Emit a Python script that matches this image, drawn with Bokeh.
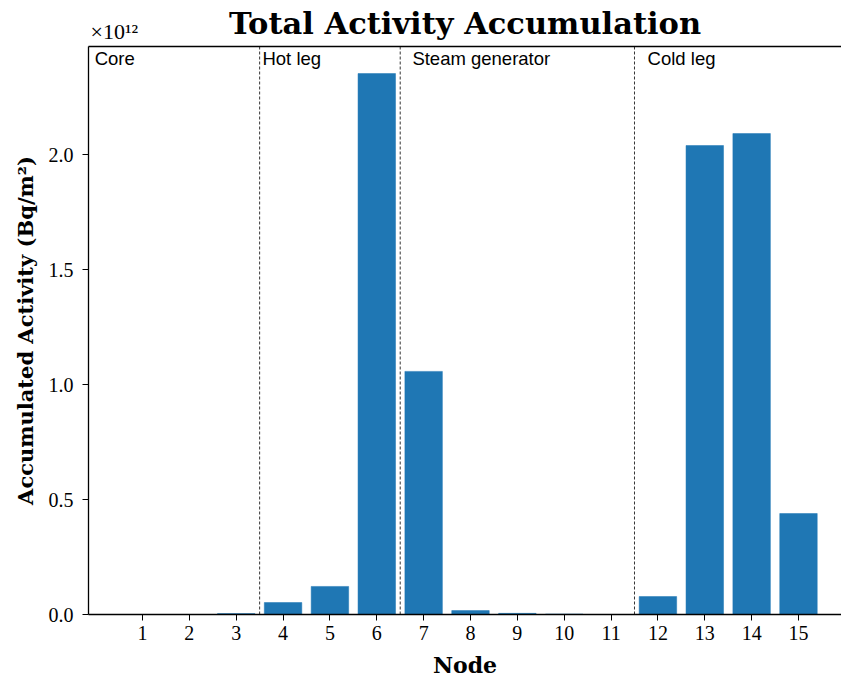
from bokeh.plotting import figure
from bokeh.models import Span, Label, ColumnDataSource, FixedTicker, NumeralTickFormatter, LinearAxis
from bokeh.embed import file_html
from bokeh.resources import INLINE

# ---- data ----
nodes = list(range(1, 16))
activity_e12 = [0.0, 0.0, 0.004, 0.052, 0.122, 2.352, 1.057, 0.017, 0.005, 0.002,
                0.0, 0.078, 2.039, 2.091, 0.439]   # units of 1e12 Bq/m^2
boundaries = [3.5, 6.5, 11.5]
region_names = ["Core", "Hot leg", "Steam generator", "Cold leg"]
region_x = [-0.02, 3.56, 6.76, 11.78]
y_ticks = [0.0, 0.5, 1.0, 1.5, 2.0]
scale_text = "×10¹²"

SERIF = "Liberation Serif"
SERIF_B = "DejaVu Serif"
SANS = "Liberation Sans"

X0, X1 = -0.1524, 15.918
Y0, Y1 = 0.0, 2.4696
SCALE_POS = X0 + 0.55   # centre of the scale-factor label on the top axis

p = figure(width=841, height=681, output_backend="svg", toolbar_location=None,
           x_range=(X0, X1), y_range=(Y0, Y1),
           min_border_left=88, min_border_right=0, min_border_top=46, min_border_bottom=67)
p.outline_line_color = None
p.grid.grid_line_color = None
p.background_fill_color = "white"
p.border_fill_color = "white"
p.title = None

xa = p.below[0]
ya = p.left[0]

src = ColumnDataSource(dict(node=nodes, act=activity_e12))
p.vbar(x="node", top="act", width=0.8, source=src, color="#1f77b4",
       line_color="#1f77b4", line_width=0.5)

for b in boundaries:
    p.add_layout(Span(location=b, dimension="height", line_color="black",
                      line_dash="3 2", line_width=0.8))

for name, rx in zip(region_names, region_x):
    p.add_layout(Label(x=rx, y=2.462, text=name, text_font=SANS, text_font_size="18.5px",
                       text_baseline="top", text_align="left", text_color="black"))

# top axis: spine, scale factor (as tick label) and title (axis label)
top = LinearAxis(ticker=FixedTicker(ticks=[SCALE_POS]),
                 major_label_overrides={SCALE_POS: scale_text},
                 major_label_text_font_size="22px",
                 major_label_text_font=SERIF,
                 major_label_text_color="black")
top.major_label_standoff = 3
top.major_tick_out = 0
top.major_tick_in = 0
top.major_tick_line_color = None
top.minor_tick_line_color = None
top.axis_line_width = 1.3
top.axis_line_color = "black"
top.axis_label = "Total Activity Accumulation"
top.axis_label_align = "center"
top.axis_label_text_font = SERIF_B
top.axis_label_text_font_style = "bold"
top.axis_label_text_font_size = "30.5px"
top.axis_label_text_color = "black"
top.axis_label_standoff = -25
p.add_layout(top, "above")

# bottom axis
xa.ticker = FixedTicker(ticks=nodes)
xa.axis_label = "Node"
xa.axis_label_text_font = SERIF_B
xa.axis_label_text_font_style = "bold"
xa.axis_label_text_font_size = "22px"
xa.axis_label_text_color = "black"
xa.axis_label_standoff = 9
xa.major_label_text_font = SERIF
xa.major_label_text_font_size = "20px"
xa.major_label_text_color = "black"
xa.major_label_standoff = 5
xa.major_tick_out = 6
xa.major_tick_in = 0
xa.minor_tick_line_color = None
xa.axis_line_width = 1.3
xa.axis_line_color = "black"
xa.major_tick_line_color = "black"

# left axis
ya.ticker = FixedTicker(ticks=y_ticks)
ya.formatter = NumeralTickFormatter(format="0.0")
ya.axis_label = "Accumulated Activity (Bq/m²)"
ya.axis_label_text_font = SERIF_B
ya.axis_label_text_font_style = "bold"
ya.axis_label_text_font_size = "21px"
ya.axis_label_text_color = "black"
ya.axis_label_standoff = 8
ya.major_label_text_font = SERIF
ya.major_label_text_font_size = "20px"
ya.major_label_text_color = "black"
ya.major_label_standoff = 9
ya.major_tick_out = 6
ya.major_tick_in = 0
ya.minor_tick_line_color = None
ya.axis_line_width = 1.3
ya.axis_line_color = "black"
ya.major_tick_line_color = "black"

open("out.html", "w").write(file_html(p, INLINE))
